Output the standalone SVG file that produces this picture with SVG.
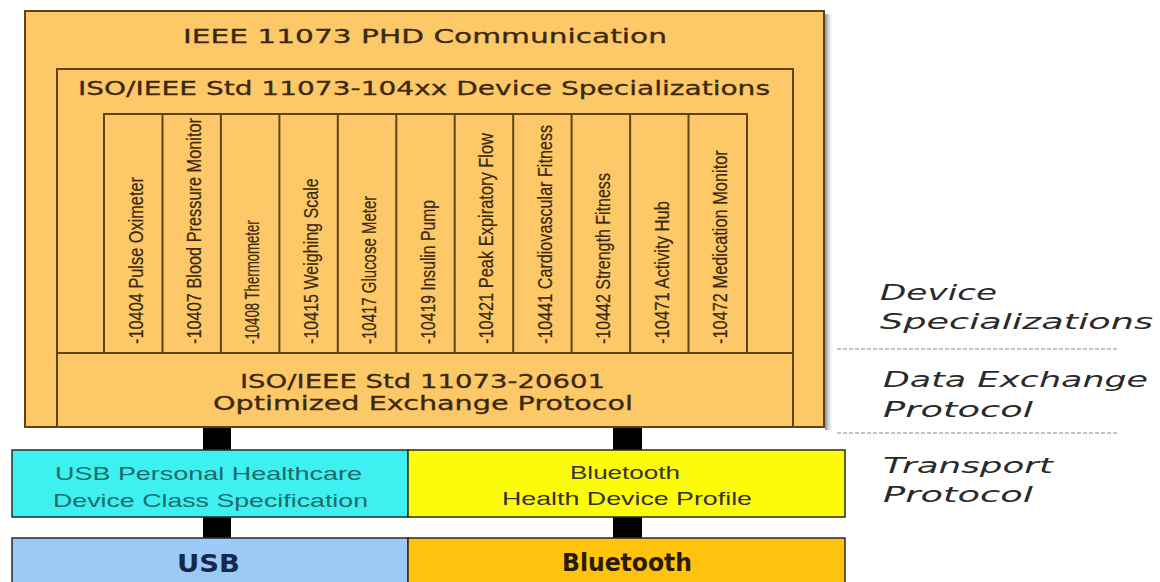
<svg xmlns="http://www.w3.org/2000/svg" width="1160" height="582" viewBox="0 0 1160 582">
<defs>
<linearGradient id="shadow" x1="0" y1="0" x2="1" y2="0">
<stop offset="0" stop-color="#8a8a8a"/>
<stop offset="1" stop-color="#ffffff" stop-opacity="0"/>
</linearGradient>
</defs>
<style>
.frame{fill:#fdc968;stroke:#5e4415;stroke-width:2}
.line{stroke:#5e4415;stroke-width:2;fill:none}
.hdr{font-family:"DejaVu Sans","Liberation Sans",sans-serif;font-size:20px;fill:#3a2810;stroke:#3a2810;stroke-width:0.3}
.col{font-family:"Liberation Sans",Arial,sans-serif;font-size:20px;fill:#3a2810;stroke:#3a2810;stroke-width:0.2}
.conn{fill:#000}
.box{stroke:#2a2a2a;stroke-width:1.5}
.tp{font-family:"Liberation Sans",Arial,sans-serif;font-size:19px;text-anchor:start}
.phy{font-family:"DejaVu Sans","Liberation Sans",sans-serif;font-size:25px;font-weight:bold}
.side{font-family:"DejaVu Sans","Liberation Sans",sans-serif;font-style:italic;font-size:22px;fill:#2a2a2a}
.dash{stroke:#8a8a8a;stroke-width:1.2;stroke-dasharray:4 2}
</style>
<rect x="0" y="0" width="1160" height="582" fill="#ffffff"/>
<rect x="825" y="14" width="9" height="416" fill="url(#shadow)"/>
<g id="phd">
<rect class="frame" x="25" y="11" width="799" height="416"/>
<text class="hdr" x="183" y="43" textLength="484" lengthAdjust="spacingAndGlyphs">IEEE 11073 PHD Communication</text>
</g>
<g id="specializations">
<rect class="line" x="57" y="69" width="736" height="358"/>
<text class="hdr" x="78" y="95" textLength="692" lengthAdjust="spacingAndGlyphs">ISO/IEEE Std 11073-104xx Device Specializations</text>
<line class="line" x1="57" y1="353" x2="793" y2="353"/>
</g>
<g id="columns">
<rect class="line" x="104" y="114" width="643" height="239"/>
<line class="line" x1="162.5" y1="114" x2="162.5" y2="353"/>
<line class="line" x1="220.9" y1="114" x2="220.9" y2="353"/>
<line class="line" x1="279.4" y1="114" x2="279.4" y2="353"/>
<line class="line" x1="337.8" y1="114" x2="337.8" y2="353"/>
<line class="line" x1="396.3" y1="114" x2="396.3" y2="353"/>
<line class="line" x1="454.7" y1="114" x2="454.7" y2="353"/>
<line class="line" x1="513.2" y1="114" x2="513.2" y2="353"/>
<line class="line" x1="571.6" y1="114" x2="571.6" y2="353"/>
<line class="line" x1="630.1" y1="114" x2="630.1" y2="353"/>
<line class="line" x1="688.5" y1="114" x2="688.5" y2="353"/>
<text class="col" transform="translate(143,344) rotate(-90) scale(0.817,1)">-10404 Pulse Oximeter</text>
<text class="col" transform="translate(201,344) rotate(-90) scale(0.817,1)">-10407 Blood Pressure Monitor</text>
<text class="col" transform="translate(259,344) rotate(-90) scale(0.66,1)">-10408 Thermometer</text>
<text class="col" transform="translate(318,344) rotate(-90) scale(0.803,1)">-10415 Weighing Scale</text>
<text class="col" transform="translate(376,344) rotate(-90) scale(0.75,1)">-10417 Glucose Meter</text>
<text class="col" transform="translate(435,344) rotate(-90) scale(0.785,1)">-10419 Insulin Pump</text>
<text class="col" transform="translate(493,344) rotate(-90) scale(0.822,1)">-10421 Peak Expiratory Flow</text>
<text class="col" transform="translate(552,344) rotate(-90) scale(0.808,1)">-10441 Cardiovascular Fitness</text>
<text class="col" transform="translate(610,344) rotate(-90) scale(0.801,1)">-10442 Strength Fitness</text>
<text class="col" transform="translate(669,344) rotate(-90) scale(0.83,1)">-10471 Activity Hub</text>
<text class="col" transform="translate(727,344) rotate(-90) scale(0.819,1)">-10472 Medication Monitor</text>
</g>
<g id="exchange">
<text class="hdr" x="240" y="388" textLength="365" lengthAdjust="spacingAndGlyphs">ISO/IEEE Std 11073-20601</text>
<text class="hdr" x="213" y="410" textLength="420" lengthAdjust="spacingAndGlyphs">Optimized Exchange Protocol</text>
</g>
<g id="connectors">
<rect class="conn" x="203" y="428" width="28" height="22"/>
<rect class="conn" x="203" y="517" width="28" height="21"/>
<rect class="conn" x="613" y="428" width="29" height="22"/>
<rect class="conn" x="613" y="517" width="29" height="21"/>
</g>
<g id="usb-phdc">
<rect class="box" x="12" y="450" width="396" height="67" fill="#3ef0f0"/>
<text class="tp" x="55" y="480" fill="#1f6b6b" textLength="307" lengthAdjust="spacingAndGlyphs">USB Personal Healthcare</text>
<text class="tp" x="53" y="507" fill="#1f6b6b" textLength="315" lengthAdjust="spacingAndGlyphs">Device Class Specification</text>
</g>
<g id="bt-hdp">
<rect class="box" x="408" y="450" width="437" height="67" fill="#fcfc0a"/>
<text class="tp" x="570" y="479" fill="#333" textLength="110" lengthAdjust="spacingAndGlyphs">Bluetooth</text>
<text class="tp" x="502" y="505" fill="#333" textLength="250" lengthAdjust="spacingAndGlyphs">Health Device Profile</text>
</g>
<g id="usb">
<rect class="box" x="12" y="538" width="396" height="60" fill="#9ccaf6"/>
<text class="phy" x="177" y="572" fill="#18284a" textLength="63" lengthAdjust="spacingAndGlyphs">USB</text>
</g>
<g id="bluetooth">
<rect class="box" x="408" y="538" width="437" height="60" fill="#ffc30e"/>
<text class="phy" x="562" y="571" fill="#2a1a0a" textLength="130" lengthAdjust="spacingAndGlyphs">Bluetooth</text>
</g>
<g id="layers">
<text class="side" x="880" y="300" textLength="117" lengthAdjust="spacingAndGlyphs">Device</text>
<text class="side" x="880" y="329" textLength="273" lengthAdjust="spacingAndGlyphs">Specializations</text>
<line class="dash" x1="837" y1="349" x2="1117" y2="349"/>
<text class="side" x="883" y="387" textLength="265" lengthAdjust="spacingAndGlyphs">Data Exchange</text>
<text class="side" x="883" y="417" textLength="150" lengthAdjust="spacingAndGlyphs">Protocol</text>
<line class="dash" x1="837" y1="433" x2="1117" y2="433"/>
<text class="side" x="883" y="473" textLength="170" lengthAdjust="spacingAndGlyphs">Transport</text>
<text class="side" x="883" y="502" textLength="150" lengthAdjust="spacingAndGlyphs">Protocol</text>
</g>
</svg>
